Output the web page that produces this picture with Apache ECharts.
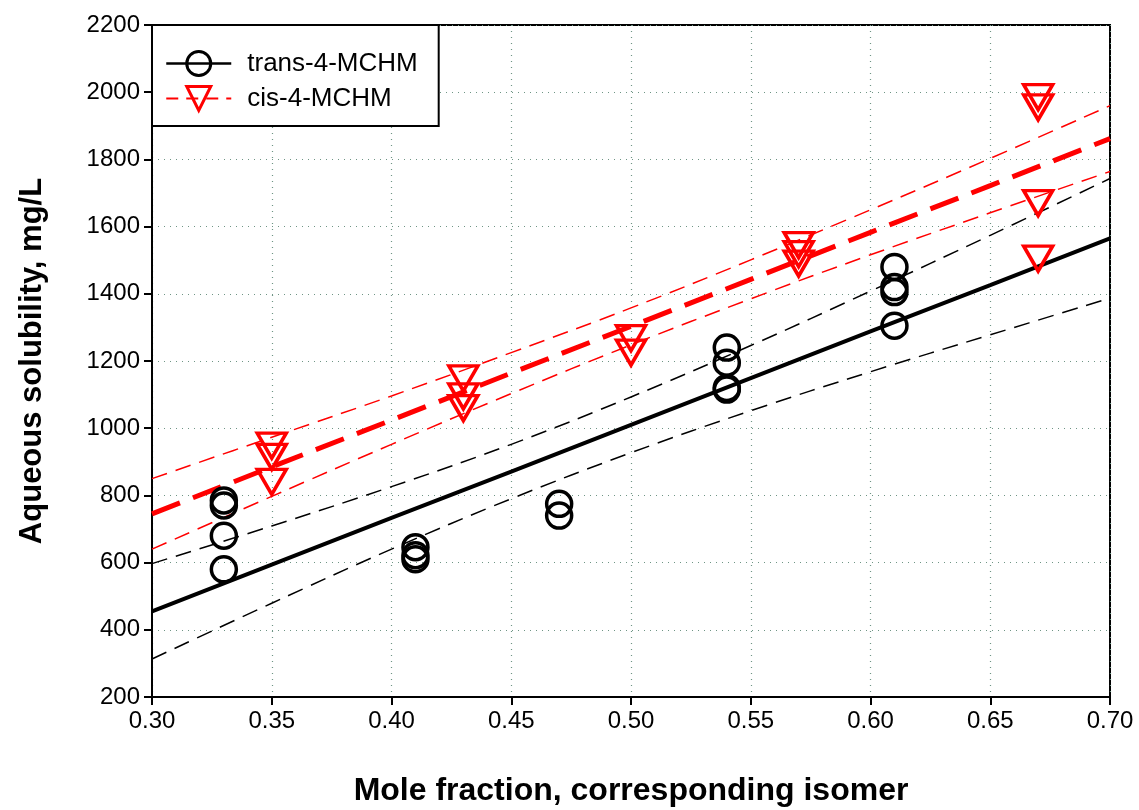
<!DOCTYPE html>
<html>
<head>
<meta charset="utf-8">
<script src="https://cdn.jsdelivr.net/npm/echarts@6/dist/echarts.min.js"></script>
<style>html,body{margin:0;padding:0;background:#fff;}#c{width:1139px;height:810px;}</style>
</head>
<body>
<div id="c"></div>
<script>
// Measured data: trans-4-MCHM (circles)
var transX = [0.33, 0.33, 0.33, 0.33, 0.41, 0.41, 0.41, 0.47, 0.47, 0.54, 0.54, 0.54, 0.54, 0.61, 0.61, 0.61, 0.61];
var transY = [785, 770, 680, 580, 646, 622, 610, 775, 740, 1240, 1195, 1120, 1115, 1480, 1420, 1405, 1305];
// Measured data: cis-4-MCHM (triangles)
var cisX = [0.35, 0.35, 0.35, 0.43, 0.43, 0.43, 0.50, 0.50, 0.57, 0.57, 0.57, 0.67, 0.67, 0.67, 0.67];
var cisY = [948, 915, 840, 1148, 1095, 1060, 1268, 1225, 1545, 1518, 1490, 1985, 1955, 1670, 1505];
// Fit lines and confidence bands
var fitX = [0.30, 0.35, 0.40, 0.45, 0.50, 0.55, 0.60, 0.65, 0.70];
var transFit = [455, 594, 733, 871, 1010, 1149, 1288, 1426, 1565];
var transUpper = [597, 709, 826, 952, 1093, 1246, 1408, 1574, 1743];
var transLower = [313, 479, 640, 790, 927, 1052, 1168, 1278, 1387];
var cisFit = [745, 885, 1024, 1164, 1303, 1443, 1583, 1722, 1862];
var cisUpper = [850, 973, 1096, 1225, 1358, 1501, 1650, 1803, 1960];
var cisLower = [640, 797, 952, 1103, 1248, 1385, 1516, 1641, 1764];
var xTicks = [0.30, 0.35, 0.40, 0.45, 0.50, 0.55, 0.60, 0.65, 0.70];
var yTicks = [200, 400, 600, 800, 1000, 1200, 1400, 1600, 1800, 2000, 2200];

function zip(xs, ys) { return xs.map(function (x, i) { return [x, ys[i]]; }); }

var FONT = '"Liberation Sans", Arial, sans-serif';
var TRI = 'path://M0,0 L28,0 L14,24 Z';
var gridLine = { show: true, lineStyle: { color: '#6f9585', type: [1, 5], width: 1.2 } };

var chart = echarts.init(document.getElementById('c'), null, { renderer: 'canvas' });
chart.setOption({
  animation: false,
  backgroundColor: '#fff',
  grid: { left: 152, right: 29, top: 25, bottom: 113, show: true, borderColor: '#000', borderWidth: 2,
          containLabel: false, outerBoundsMode: 'none' },
  xAxis: {
    type: 'value', min: xTicks[0], max: xTicks[xTicks.length - 1], interval: 0.05,
    name: 'Mole fraction, corresponding isomer', nameLocation: 'middle', nameGap: 78,
    nameTextStyle: { fontFamily: FONT, fontSize: 32, fontWeight: 'bold', color: '#000' },
    axisLine: { show: true, lineStyle: { color: '#000', width: 2 } },
    axisTick: { show: true, inside: false, length: 8, lineStyle: { color: '#000', width: 2 } },
    axisLabel: { fontFamily: FONT, fontSize: 24, color: '#000', margin: 12, formatter: function (v) { return v.toFixed(2); } },
    splitLine: gridLine
  },
  yAxis: {
    type: 'value', min: yTicks[0], max: yTicks[yTicks.length - 1], interval: 200,
    name: 'Aqueous solubility, mg/L', nameLocation: 'middle', nameGap: 104,
    nameTextStyle: { fontFamily: FONT, fontSize: 31, fontWeight: 'bold', color: '#000' },
    axisLine: { show: true, lineStyle: { color: '#000', width: 2 } },
    axisTick: { show: true, inside: false, length: 8, lineStyle: { color: '#000', width: 2 } },
    axisLabel: { fontFamily: FONT, fontSize: 24, color: '#000', margin: 12, formatter: function (v) { return String(v); } },
    splitLine: gridLine
  },
  legend: {
    left: 152, top: 25, orient: 'vertical',
    padding: [25, 21, 14, 13], itemGap: 8, itemWidth: 65, itemHeight: 30,
    borderColor: '#000', borderWidth: 2, backgroundColor: '#fff',
    textStyle: { fontFamily: FONT, fontSize: 26, color: '#000', padding: [0, 0, 0, 11] },
    selectedMode: false,
    data: [
      { name: 'trans-4-MCHM', itemStyle: { color: 'rgba(0,0,0,0)', borderColor: '#000', borderWidth: 3 }, lineStyle: { color: '#000', width: 2.5, type: 'solid' } },
      { name: 'cis-4-MCHM', itemStyle: { color: 'rgba(0,0,0,0)', borderColor: '#f00', borderWidth: 3 }, lineStyle: { color: '#f00', width: 2, type: [12, 8] } }
    ]
  },
  series: [
    { name: 'trans-4-MCHM', type: 'line', data: [], symbol: 'circle', symbolSize: 25,
      lineStyle: { color: '#000', width: 2.5 }, itemStyle: { color: 'rgba(0,0,0,0)', borderColor: '#000', borderWidth: 3 } },
    { name: 'cis-4-MCHM', type: 'line', data: [], symbol: TRI, symbolSize: [28, 24],
      lineStyle: { color: '#f00', width: 2, type: [12, 8] }, itemStyle: { color: 'rgba(0,0,0,0)', borderColor: '#f00', borderWidth: 3 } },
    { name: 'transUpper', type: 'line', data: zip(fitX, transUpper), smooth: 0.4, showSymbol: false, symbol: 'none', silent: true,
      lineStyle: { color: '#000', width: 1.5, type: [16, 9] }, z: 2 },
    { name: 'transLower', type: 'line', data: zip(fitX, transLower), smooth: 0.4, showSymbol: false, symbol: 'none', silent: true,
      lineStyle: { color: '#000', width: 1.5, type: [16, 9] }, z: 2 },
    { name: 'cisUpper', type: 'line', data: zip(fitX, cisUpper), smooth: 0.4, showSymbol: false, symbol: 'none', silent: true,
      lineStyle: { color: '#f00', width: 1.5, type: [16, 9] }, z: 2 },
    { name: 'cisLower', type: 'line', data: zip(fitX, cisLower), smooth: 0.4, showSymbol: false, symbol: 'none', silent: true,
      lineStyle: { color: '#f00', width: 1.5, type: [16, 9] }, z: 2 },
    { name: 'transFit', type: 'line', data: zip(fitX, transFit), showSymbol: false, symbol: 'none', silent: true,
      lineStyle: { color: '#000', width: 4 }, z: 3 },
    { name: 'cisFit', type: 'line', data: zip(fitX, cisFit), showSymbol: false, symbol: 'none', silent: true,
      lineStyle: { color: '#f00', width: 5, type: [30, 14] }, z: 3 },
    { name: 'transPts', type: 'scatter', data: zip(transX, transY), symbol: 'circle', symbolSize: 25, silent: true,
      itemStyle: { color: 'rgba(0,0,0,0)', borderColor: '#000', borderWidth: 3.5, opacity: 1 }, z: 5 },
    { name: 'cisPts', type: 'scatter', data: zip(cisX, cisY), symbol: TRI, symbolSize: [29, 25], silent: true,
      itemStyle: { color: 'rgba(0,0,0,0)', borderColor: '#f00', borderWidth: 3.5, opacity: 1 }, z: 5 }
  ]
});
</script>
</body>
</html>
